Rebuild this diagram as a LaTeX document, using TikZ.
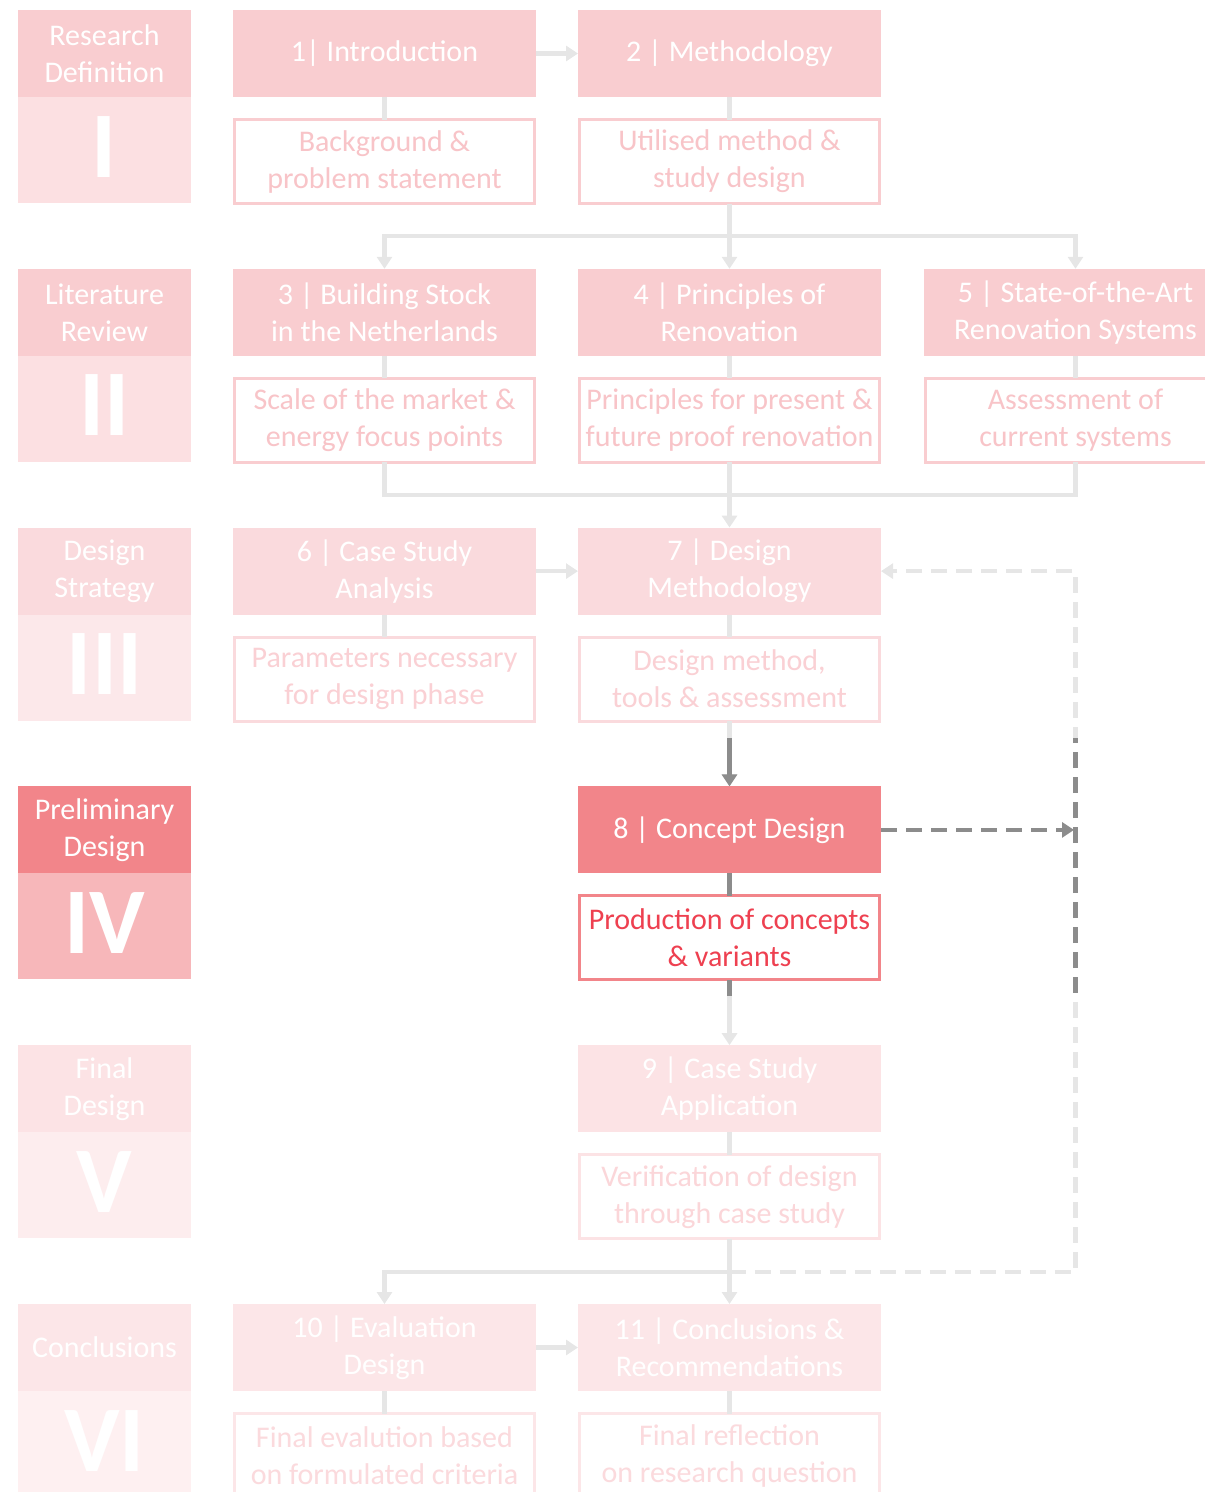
\documentclass[tikz,border=0pt]{standalone}
\usepackage{fontspec}
\setmainfont{Carlito}
\usetikzlibrary{arrows.meta}
\definecolor{hA}{HTML}{F9CDD0}\definecolor{lA}{HTML}{FCE0E2}\definecolor{tA}{HTML}{F8C4C8}
\definecolor{hC}{HTML}{FADADD}\definecolor{lC}{HTML}{FCE8EA}\definecolor{tC}{HTML}{FAD0D4}
\definecolor{hD}{HTML}{F2858A}\definecolor{lD}{HTML}{F7B7BA}\definecolor{tD}{HTML}{EE4050}
\definecolor{hE}{HTML}{FCE3E5}\definecolor{lE}{HTML}{FDEDEE}\definecolor{tE}{HTML}{FBD6D9}
\definecolor{hF}{HTML}{FCE6E8}\definecolor{lF}{HTML}{FEF0F1}\definecolor{tF}{HTML}{FBDADD}
\definecolor{lgray}{HTML}{E6E6E6}\definecolor{dgray}{HTML}{8C8C8C}
\newcommand{\txtfs}{\fontsize{30}{37}\selectfont}
\newcommand{\romfs}{\fontsize{94}{94}\selectfont\bfseries}
\begin{document}
\begin{tikzpicture}[x=1pt,y=-1pt,
 hdr/.style={fill=#1, draw=none, minimum width=303pt, minimum height=87pt, inner sep=0pt, outer sep=0pt, text=white, font=\txtfs, align=center},
 lhdr/.style={hdr=#1, minimum width=173pt},
 lsub/.style={fill=#1, draw=none, minimum width=173pt, minimum height=106pt, inner sep=0pt, outer sep=0pt},
 roman/.style={text=white, font=\romfs, anchor=base, inner sep=0pt},
 sub/.style 2 args={draw=#1, fill=white, line width=3pt, minimum width=300pt, minimum height=84pt, inner sep=0pt, outer sep=0pt, text=#2, font=\txtfs, align=center},
 lconn/.style={draw=lgray, line width=4.5pt},
 dconn/.style={draw=dgray, line width=4.5pt},
 tip/.style={-{Triangle[width=15pt,length=12pt]}},
 dashpat/.style={dash pattern=on 16pt off 9pt}
]
\useasboundingbox (0,0) rectangle (1205,1492);
% ---- left column
\node[lhdr=hA] (L1) at (104.5,53.5) {Research\\Definition};
\node[lsub=lA] (LS1) at (104.5,150) {};
\node[roman] (R1) at (104.5,177) {I};
\node[lhdr=hA] (L2) at (104.5,312.3) {Literature\\Review};
\node[lsub=lA] (LS2) at (104.5,408.8) {};
\node[roman] (R2) at (104.5,435.8) {II};
\node[lhdr=hC] (L3) at (104.5,571.1) {Design\\Strategy};
\node[lsub=lC] (LS3) at (104.5,667.6) {};
\node[roman] (R3) at (104.5,694.6) {III};
\node[lhdr=hD] (L4) at (104.5,829.9) {Preliminary\\Design};
\node[lsub=lD] (LS4) at (104.5,926.4) {};
\node[roman] (R4) at (104.5,953.4) {IV};
\node[lhdr=hE] (L5) at (104.5,1088.7) {Final\\Design};
\node[lsub=lE] (LS5) at (104.5,1185.2) {};
\node[roman] (R5) at (104.5,1212.2) {V};
\node[lhdr=hF] (L6) at (104.5,1347.5) {Conclusions};
\node[lsub=lF] (LS6) at (104.5,1444) {};
\node[roman] (R6) at (104.5,1471) {VI};
% ---- row I
\node[hdr=hA] (h1) at (384.5,53.5) {1| Introduction};
\node[hdr=hA] (h2) at (729.5,53.5) {2 | Methodology};
\node[sub={hA}{tA}] (s1) at (384.5,161.5) {Background \&\\problem statement};
\node[sub={hA}{tA}] (s2) at (729.5,161.5) {Utilised method \&\\study design};
% ---- row II
\node[hdr=hA] (h3) at (384.5,312.3) {3 | Building Stock\\in the Netherlands};
\node[hdr=hA] (h4) at (729.5,312.3) {4 | Principles of\\Renovation};
\node[hdr=hA] (h5) at (1075.5,312.3) {5 | State-of-the-Art\\Renovation Systems};
\node[sub={hA}{tA}] (s3) at (384.5,420.3) {Scale of the market \&\\energy focus points};
\node[sub={hA}{tA}] (s4) at (729.5,420.3) {Principles for present \&\\future proof renovation};
\node[sub={hA}{tA}] (s5) at (1075.5,420.3) {Assessment of\\current systems};
% ---- row III
\node[hdr=hC] (h6) at (384.5,571.1) {6 | Case Study\\Analysis};
\node[hdr=hC] (h7) at (729.5,571.1) {7 | Design\\Methodology};
\node[sub={hC}{tC}] (s6) at (384.5,679.1) {Parameters necessary\\for design phase};
\node[sub={hC}{tC}] (s7) at (729.5,679.1) {Design method,\\tools \& assessment};
% ---- row IV
\node[hdr=hD] (h8) at (729.5,829.9) {8 | Concept Design};
\node[sub={hD}{tD}] (s8) at (729.5,937.9) {Production of concepts\\\& variants};
% ---- row V
\node[hdr=hE] (h9) at (729.5,1088.7) {9 | Case Study\\Application};
\node[sub={hE}{tE}] (s9) at (729.5,1196.7) {Verification of design\\through case study};
% ---- row VI
\node[hdr=hF] (h10) at (384.5,1347.5) {10 | Evaluation\\Design};
\node[hdr=hF] (h11) at (729.5,1347.5) {11 | Conclusions \&\\Recommendations};
\node[sub={hF}{tF}] (s10) at (384.5,1455.5) {Final evalution based\\on formulated criteria};
\node[sub={hF}{tF}] (s11) at (729.5,1455.5) {Final reflection\\on research question};
% ---- coordinates
\coordinate (jt) at (729.5,236);
\coordinate (jm) at (729.5,495);
\coordinate (jb) at (729.5,1272);
\coordinate (c1) at (1075.5,1272);
\coordinate (c2) at (1075.5,571.1);
\coordinate (tap) at (1074,829.9);
% ---- header to sub links
\foreach \n in {1,2,3,4,5,6,7,9,10,11} {\draw[lconn] (h\n.south) -- (s\n.north);}
\draw[dconn] (h8.south) -- (s8.north);
% ---- horizontal arrows
\draw[lconn,tip] (h1.east) -- (h2.west);
\draw[lconn,tip] (h6.east) -- (h7.west);
\draw[lconn,tip] (h10.east) -- (h11.west);
% ---- split after row I
\draw[lconn,tip] (s2.south) -- (h4.north);
\draw[lconn,tip] (jt) -| (h3.north);
\draw[lconn,tip] (jt) -| (h5.north);
% ---- merge after row II
\draw[lconn] (s3.south) |- (jm);
\draw[lconn] (s5.south) |- (jm);
\draw[lconn,tip] (s4.south) -- (h7.north);
% ---- row III to IV
\draw[lconn,tip] (s7.south) -- (h8.north);
\begin{scope}\clip (700,738) rectangle (760,800);
\draw[dconn,tip] (s7.south) -- (h8.north);
\end{scope}
% ---- row IV to V
\draw[lconn,tip] (s8.south) -- (h9.north);
\begin{scope}\clip (700,975) rectangle (760,995);
\draw[dconn] (s8.south) -- (h9.north);
\end{scope}
% ---- row V to VI
\draw[lconn,tip] (s9.south) -- (h11.north);
\draw[lconn,tip] (jb) -| (h10.north);
% ---- feedback dashed loop
\draw[lconn,dashpat,tip] (jb) -- (c1) -- (c2) -- (h7.east);
\begin{scope}\clip (1040,738) rectangle (1110,992);
\draw[dconn,dashpat] (jb) -- (c1) -- (c2) -- (h7.east);
\end{scope}
\draw[dconn,dashpat,tip] (h8.east) -- (tap);
\end{tikzpicture}
\end{document}
